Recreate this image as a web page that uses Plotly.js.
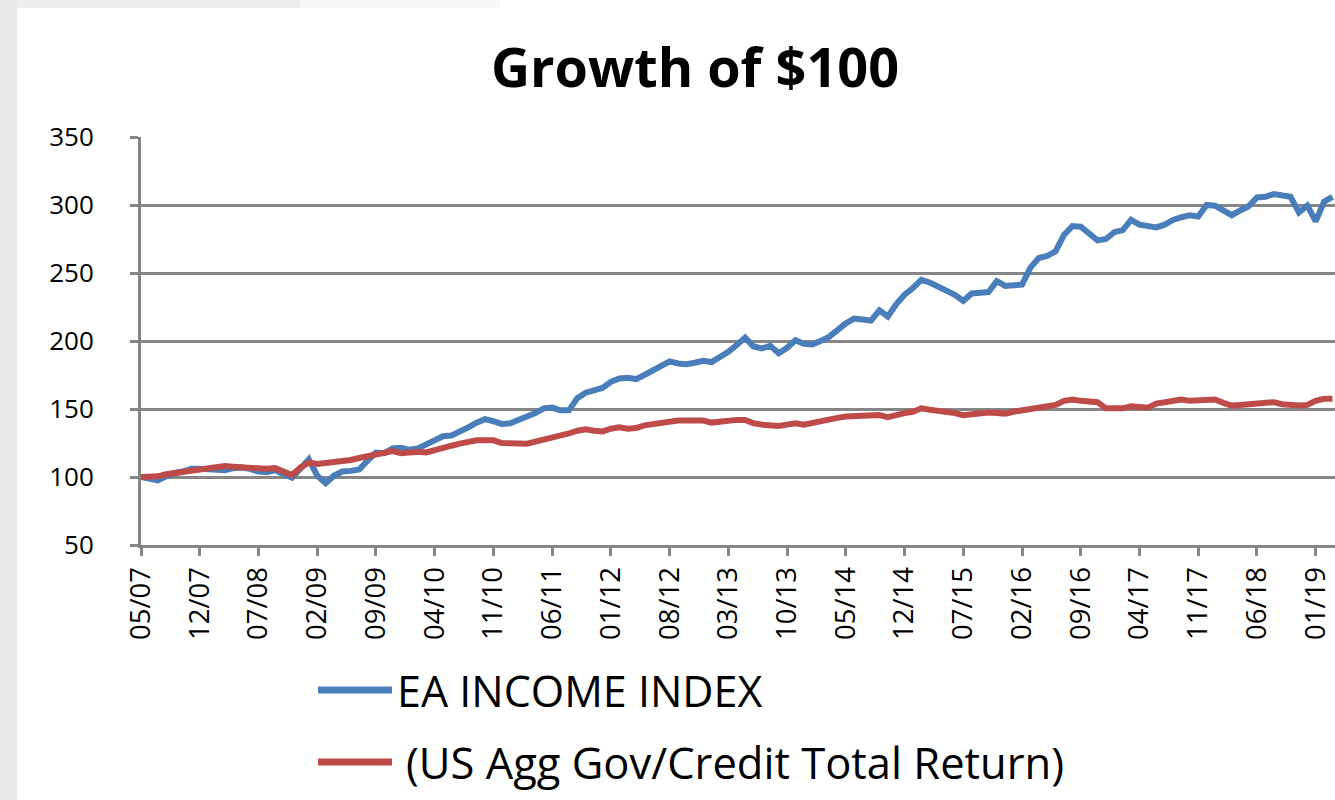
<!DOCTYPE html>
<html>
<head>
<meta charset="utf-8">
<script src="https://cdn.plot.ly/plotly-3.0.1.min.js"></script>
<style>
  html, body { margin: 0; padding: 0; background: #ffffff; }
  #chart { width: 1335px; height: 800px; }
</style>
</head>
<body>
<div id="chart"></div>
<script>
// ---- Data ----
const chartTitle = "Growth of $100";
const seriesNames = ["EA INCOME INDEX", "(US Agg Gov/Credit Total Return)"];

// Monthly observations from 05/07 to 03/19 (143 months)
const startYear = 2007;
const startMonth = 5;
const monthCount = 143;

const eaIncomeIndex = [
  100, 99, 97.5, 100.5, 103, 104, 106, 106, 105.5, 105,
  105, 106.5, 107, 106, 104, 103.5, 105, 102, 99.5, 106,
  113, 101, 95.5, 101, 104, 104.5, 105.5, 112, 118, 117.5,
  121, 121.5, 120, 121, 124, 128, 130, 130.5, 133, 136.5,
  140, 142.5, 141, 139, 139.5, 141.5, 144.5, 147, 150.5, 151,
  149, 149, 158, 162, 163.5, 165.5, 170, 172.5, 173, 172,
  175, 178, 181, 185, 183.5, 183, 184, 185.5, 184.5, 188,
  192, 197, 202.5, 196, 194.5, 196.5, 191, 195, 200.5, 198,
  197.5, 200, 203, 208, 213, 216.5, 216, 215, 222.5, 218,
  227, 234, 239, 245, 243, 240, 237, 234, 229.5, 235,
  235.5, 236, 244, 240.5, 241, 241.5, 254, 261, 262.5, 266,
  278, 284.5, 284, 279, 274, 275, 280, 281.5, 289, 285.5,
  284.5, 283.5, 285.5, 289, 291, 292.5, 291.5, 300, 299.5, 296,
  292.5, 296, 299, 305.5, 306, 308, 307.5, 306, 294.5, 299.5,
  288, 302.5, 306
];

const usAggGovCredit = [
  100, 100, 100.5, 102, 103, 104, 104.5, 105, 106.5, 107.5,
  108, 107.5, 107, 106, 105.5, 106, 106.5, 104, 101.5, 107,
  110.5, 109.5, 110, 110.5, 111.5, 112.5, 114, 115.5, 117, 117.5,
  119, 117.5, 118.5, 118.5, 118, 120, 121.5, 123, 124.5, 126,
  127, 127, 127, 125, 124.5, 124.5, 124.5, 126, 127.5, 128,
  129.5, 132, 134, 135, 134, 133.5, 135.5, 136.5, 135.5, 136,
  138, 139, 140, 141, 141.5, 141.5, 141.5, 141.5, 140, 141,
  141.5, 142, 142, 139.5, 138.5, 138, 137.5, 138.5, 139.5, 138.5,
  140, 141, 142.5, 143.5, 144.5, 144.5, 144.5, 145, 145.5, 144,
  146, 147, 148, 150.5, 149.5, 149, 148, 147, 145.5, 146.5,
  147, 147.5, 147, 146.5, 148, 149, 151, 152, 152, 153,
  156, 157, 156, 155.5, 155, 150.5, 150, 150.5, 152, 151.5,
  151, 154, 155, 155.5, 157, 156, 156, 156.5, 157, 154.5,
  152.5, 153, 153.5, 154.5, 154.5, 155, 153.5, 152.5, 152.5, 153,
  156, 157.5, 157.5
];

// Tick labels shown on the x axis (every 7th month)
const xTickLabels = ["05/07","12/07","07/08","02/09","09/09","04/10","11/10","06/11",
  "01/12","08/12","03/13","10/13","05/14","12/14","07/15","02/16","09/16","04/17",
  "11/17","06/18","01/19"];

const yTickValues = [50, 100, 150, 200, 250, 300, 350];

// ---- Build month category labels ----
const months = [];
for (let k = 0; k < monthCount; k++) {
  const m = ((startMonth - 1 + k) % 12) + 1;
  const y = startYear + Math.floor((startMonth - 1 + k) / 12);
  months.push(String(m).padStart(2, "0") + "/" + String(y % 100).padStart(2, "0"));
}

const blue = "#4a7ebb";
const red = "#be4b48";
const gridGray = "#868686";
const fontFam = "'Open Sans', 'Liberation Sans', sans-serif";

const traces = [
  { x: months, y: eaIncomeIndex, type: "scatter", mode: "lines", name: seriesNames[0],
    line: { color: blue, width: 6 }, showlegend: false },
  { x: months, y: usAggGovCredit, type: "scatter", mode: "lines", name: seriesNames[1],
    line: { color: red, width: 6 }, showlegend: false }
];

// plot area: x 141..1335, y 137..545
const L = 141, T = 137, W = 1194, H = 408;
const px = v => (v - L) / W;
const py = v => (T + H - v) / H;

const shapes = [
  // left grey page strip
  { type: "rect", xref: "paper", yref: "paper", x0: px(0), x1: px(17), y0: py(800), y1: py(0),
    fillcolor: "#e9e9e9", line: { width: 0 }, layer: "below" },
  { type: "rect", xref: "paper", yref: "paper", x0: px(17), x1: px(300), y0: py(8), y1: py(0),
    fillcolor: "#eeeeee", line: { width: 0 }, layer: "below" },
  { type: "rect", xref: "paper", yref: "paper", x0: px(300), x1: px(500), y0: py(8), y1: py(0),
    fillcolor: "#f7f7f7", line: { width: 0 }, layer: "below" },
  // legend swatches
  { type: "line", xref: "paper", yref: "paper", x0: px(318), x1: px(392), y0: py(690), y1: py(690),
    line: { color: blue, width: 7 } },
  { type: "line", xref: "paper", yref: "paper", x0: px(318), x1: px(392), y0: py(762), y1: py(762),
    line: { color: red, width: 7 } }
];

const annotations = [
  { xref: "paper", yref: "paper", x: px(395), y: py(690), xanchor: "left", yanchor: "middle",
    text: seriesNames[0], showarrow: false, font: { family: fontFam, size: 43, color: "#000" } },
  { xref: "paper", yref: "paper", x: px(404), y: py(762), xanchor: "left", yanchor: "middle",
    text: seriesNames[1], showarrow: false, font: { family: fontFam, size: 43.5, color: "#000" } }
];

const layout = {
  width: 1335, height: 800,
  paper_bgcolor: "#ffffff", plot_bgcolor: "#ffffff",
  margin: { l: L, r: 0, t: T, b: 800 - T - H, pad: 0 },
  title: { text: "<b>" + chartTitle + "</b>", x: 695 / 1335, xanchor: "center", xref: "container",
    y: 1 - 68 / 800, yanchor: "middle", yref: "container",
    font: { family: fontFam, size: 54, color: "#000" } },
  xaxis: {
    type: "category", range: [0, 142.3],
    tickmode: "array", tickvals: xTickLabels, ticktext: xTickLabels,
    tickangle: -90, ticks: "outside", ticklen: 8, tickwidth: 3, tickcolor: gridGray,
    showline: true, linecolor: gridGray, linewidth: 3,
    showgrid: false, zeroline: false,
    tickfont: { family: fontFam, size: 27.5, color: "#000" }
  },
  yaxis: {
    range: [50, 350], tickmode: "array", tickvals: yTickValues,
    ticks: "outside", ticklen: 8, tickwidth: 3, tickcolor: gridGray,
    showline: true, linecolor: gridGray, linewidth: 3,
    showgrid: true, gridcolor: gridGray, gridwidth: 3, zeroline: false,
    ticklabelstandoff: 31,
    tickfont: { family: fontFam, size: 26, color: "#000" }
  },
  shapes: shapes,
  annotations: annotations,
  showlegend: false
};

Plotly.newPlot("chart", traces, layout, { displayModeBar: false, staticPlot: true });
</script>
</body>
</html>
